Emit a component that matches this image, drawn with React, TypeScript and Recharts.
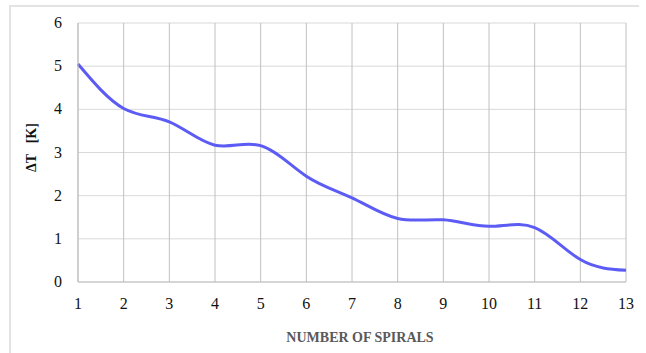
import { CartesianGrid, Label, Line, LineChart, XAxis, YAxis } from "recharts";

const spirals = [1, 2, 3, 4, 5, 6, 7, 8, 9, 10, 11, 12, 13];
const deltaT = [5.05, 4.02, 3.71, 3.17, 3.16, 2.45, 1.95, 1.47, 1.44, 1.29, 1.26, 0.52, 0.27];
const yTicks = [0, 1, 2, 3, 4, 5, 6];

const data = spirals.map((n, i) => ({ n, dt: deltaT[i] }));

const serif = "'Liberation Serif', 'Times New Roman', serif";

const xTick = (props: any) => {
  const { x, y, payload } = props;
  return (
    <text
      x={x}
      y={y + 27}
      textAnchor="middle"
      style={{ fontFamily: serif, fontSize: 16 }}
      fill="#111"
    >
      {payload.value}
    </text>
  );
};

const yTick = (props: any) => {
  const { x, y, payload } = props;
  return (
    <text
      x={x - 2}
      y={y + 5}
      textAnchor="end"
      style={{ fontFamily: serif, fontSize: 16 }}
      fill="#111"
    >
      {payload.value}
    </text>
  );
};

const yLabel = (props: any) => {
  const vb = props.viewBox;
  const cx = 31;
  const cy = vb.y + vb.height / 2 - 5;
  return (
    <text
      x={cx}
      y={cy}
      transform={`rotate(-90 ${cx} ${cy})`}
      textAnchor="middle"
      dominantBaseline="central"
      fontFamily={serif}
      fontWeight="bold"
      fontSize={14}
      fill="#111"
    >
      {"ΔT\u00a0\u00a0\u00a0[K]"}
    </text>
  );
};

const xLabel = (props: any) => {
  const vb = props.viewBox;
  return (
    <text
      x={vb.x + vb.width / 2 + 8}
      y={337}
      textAnchor="middle"
      dominantBaseline="central"
      fontFamily={serif}
      fontWeight="bold"
      fontSize={14}
      fill="#595959"
    >
      NUMBER OF SPIRALS
    </text>
  );
};

export default function App() {
  return (
    <div
      style={{
        position: "absolute",
        left: 0,
        top: 0,
        width: 646,
        height: 353,
        background: "#fff",
        fontFamily: serif,
      }}
    >
      <div
        style={{
          position: "absolute",
          left: 9,
          top: 5,
          width: 628,
          height: 348,
          borderTop: "2px solid #e3e3e3",
          borderLeft: "2px solid #e3e3e3",
        }}
      />
      <LineChart
        width={646}
        height={353}
        data={data}
        margin={{ top: 23, right: 20, bottom: 11, left: 0 }}
        style={{ position: "absolute", left: 0, top: 0 }}
      >
        <CartesianGrid horizontal={true} vertical={false} stroke="#d9d9d9" strokeWidth={1} />
        <CartesianGrid horizontal={false} vertical={true} stroke="#c0c0c0" strokeWidth={1} />
        <XAxis
          dataKey="n"
          type="number"
          domain={[1, 13]}
          ticks={spirals}
          height={60}
          axisLine={{ stroke: "#bfbfbf" }}
          tickLine={false}
          tickSize={0}
          tickMargin={0}
          tick={xTick}
          interval={0}
        >
          <Label content={xLabel} />
        </XAxis>
        <YAxis
          type="number"
          domain={[0, 6]}
          ticks={yTicks}
          width={78}
          axisLine={{ stroke: "#bfbfbf" }}
          tickLine={false}
          tickSize={0}
          tickMargin={14}
          tick={yTick}
          interval={0}
        >
          <Label content={yLabel} />
        </YAxis>
        <Line
          type="natural"
          dataKey="dt"
          stroke="#5c5cf5"
          strokeWidth={3}
          dot={false}
          isAnimationActive={false}
        />
      </LineChart>
    </div>
  );
}
